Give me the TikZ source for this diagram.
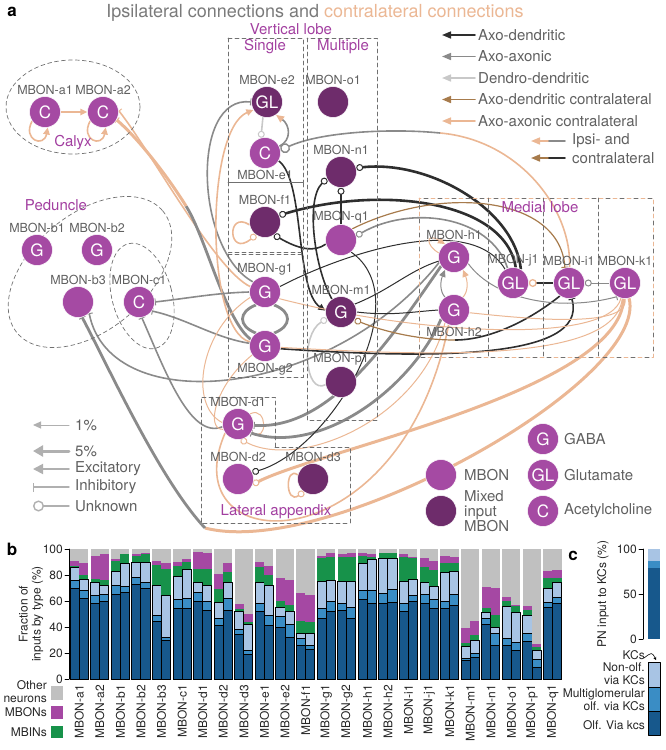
\documentclass[tikz,border=0pt]{standalone}
\usepackage{fontspec}
\setmainfont{TeX Gyre Heros}
\usetikzlibrary{arrows.meta}
\definecolor{cmbon}{HTML}{A54AA3}
\definecolor{cmix}{HTML}{6E2C6B}
\definecolor{cdd}{HTML}{2E2E2E}
\definecolor{caa}{HTML}{8A8A8A}
\definecolor{cden}{HTML}{C8C8C8}
\definecolor{cbr}{HTML}{A77B4C}
\definecolor{ctan}{HTML}{EBB794}
\definecolor{ctxt}{HTML}{606060}
\definecolor{cttl}{HTML}{7A7A7A}
\definecolor{creg}{HTML}{A23FA0}
\definecolor{cbox}{HTML}{707070}
\definecolor{cleg}{HTML}{B0B0B0}
\definecolor{bdark}{HTML}{17588C}
\definecolor{bmid}{HTML}{3A8DC5}
\definecolor{blight}{HTML}{A8C4E4}
\definecolor{bgreen}{HTML}{17924A}
\definecolor{bpurp}{HTML}{A548A3}
\definecolor{bgrey}{HTML}{C0C0C0}
\pgfdeclarelayer{background}
\pgfsetlayers{background,main}
\tikzset{
  mbon/.style={circle,minimum size=31pt,inner sep=0pt,fill=cmbon,draw=white,line width=0.5pt,
    text=white,font=\fontsize{17}{17}\selectfont},
  mixed/.style={mbon,fill=cmix},
  lbl/.style={text=ctxt,font=\fontsize{12.5}{13}\selectfont,inner sep=1pt},
  region/.style={text=creg,font=\fontsize{15}{15}\selectfont,inner sep=1pt},
  leg/.style={text=ctxt,font=\fontsize{15}{15}\selectfont,inner sep=1pt},
  cht/.style={text=black!85,font=\fontsize{12}{13}\selectfont,inner sep=1pt},
  box/.style={draw=cbox,line width=0.7pt,dash pattern=on 4pt off 3pt},
  dk1/.style={draw=cdd,line width=1pt},
  dk2/.style={draw=cdd,line width=1.6pt},
  dk3/.style={draw=cdd,line width=2.6pt},
  gr1/.style={draw=caa,line width=1pt},
  gr2/.style={draw=caa,line width=1.6pt},
  gr3/.style={draw=caa,line width=2.8pt},
  tn1/.style={draw=ctan,line width=1pt},
  tn2/.style={draw=ctan,line width=1.6pt},
  tn3/.style={draw=ctan,line width=3pt},
  den2/.style={draw=cden,line width=1.6pt},
  br1/.style={draw=cbr,line width=1.2pt},
  exc/.style={-{Triangle[length=7pt,width=6.5pt]}},
  inh/.style={-{Bar[width=7pt,line width=1pt]}},
  unk/.style={-{Circle[open,length=7pt,fill=white,line width=1pt]}},
  unkbig/.style={-{Circle[open,length=10pt,fill=white,line width=1.4pt]}},
}
\begin{document}
\begin{tikzpicture}[x=1pt,y=-1pt,line cap=round,line join=round]
\useasboundingbox (0,0) rectangle (665,750);

% title and panel letters
\node[font=\fontsize{18}{18}\selectfont,inner sep=0pt] (ttl) at (315,13)
  {\textcolor{cttl}{Ipsilateral connections and} \textcolor{ctan}{contralateral connections}};
\node[font=\bfseries\fontsize{17}{17}\selectfont,inner sep=0pt] (pa) at (12,12) {a};
\node[font=\bfseries\fontsize{17}{17}\selectfont,inner sep=0pt] (pb) at (12,549) {b};
\node[font=\bfseries\fontsize{17}{17}\selectfont,inner sep=0pt] (pc) at (573,556) {c};

% regions
\draw[box] (73,107) ellipse [x radius=67,y radius=47];
\draw[box,rotate around={40:(90,272)}] (90,272) ellipse [x radius=95,y radius=58];
\draw[box,rotate around={15:(142,296)}] (142,296) ellipse [x radius=30,y radius=54];
\draw[box] (228,38) rectangle (303,182);
\draw[box] (228,182) rectangle (303,252);
\draw[box] (228,254) rectangle (303,377);
\draw[box] (307,38) rectangle (377,420);
\draw[box,draw=ctan] (419,198) rectangle (653,357);
\draw[box,dash pattern=on 4pt off 10pt,dash phase=7pt] (419,198) rectangle (653,357);
\foreach \xd in {488,543,598}
  \draw[box] (\xd,198) -- (\xd,357);
\draw[box] (275,447) -- (350,447) -- (350,523) -- (201,523) -- (201,397) -- (275,397) -- cycle;

\node[region] (calyx) at (73,143) {Calyx};
\node[region] (ped) at (56,205) {Peduncle};
\node[region] (vert) at (291,29) {Vertical lobe};
\node[region] (single) at (265,47) {Single};
\node[region] (multi) at (343,47) {Multiple};
\node[region] (medial) at (540,207) {Medial lobe};
\node[region] (latap) at (276,512) {Lateral appendix};

% MBONs
\node[mbon,label={[lbl]above:MBON-a1}] (a1) at (45,112) {C};
\node[mbon,label={[lbl]above:MBON-a2}] (a2) at (103,112) {C};
\node[mbon,label={[lbl]above:MBON-b1}] (b1) at (37,250) {G};
\node[mbon,label={[lbl]above:MBON-b2}] (b2) at (97,250) {G};
\node[mbon,label={[lbl]above:MBON-b3}] (b3) at (78,302) {};
\node[mbon,label={[lbl]above:MBON-c1}] (c1) at (139,302) {C};
\node[mixed,label={[lbl]above:MBON-e2}] (e2) at (267,102) {GL};
\node[mixed,label={[lbl]above:MBON-o1}] (o1) at (333,102) {};
\node[mbon,label={[lbl]below:MBON-e1}] (e1) at (265,153) {C};
\node[mixed,label={[lbl]above:MBON-f1}] (f1) at (265,222) {};
\node[mixed,label={[lbl]above:MBON-n1}] (n1) at (341,172) {};
\node[mbon,label={[lbl]above:MBON-q1}] (q1) at (341,240) {};
\node[mbon,label={[lbl]above:MBON-g1}] (g1) at (265,292) {G};
\node[mbon,label={[lbl]below:MBON-g2}] (g2) at (265,346) {G};
\node[mixed,label={[lbl]above:MBON-m1}] (m1) at (341,312) {G};
\node[mixed,label={[lbl]above:MBON-p1}] (p1) at (341,382) {};
\node[mbon,label={[lbl]above:MBON-h1}] (h1) at (454,257) {G};
\node[mbon,label={[lbl]below:MBON-h2}] (h2) at (454,310) {G};
\node[mbon,label={[lbl]above:MBON-j1}] (j1) at (513,283) {GL};
\node[mbon,label={[lbl]above:MBON-i1}] (i1) at (569,283) {GL};
\node[mbon,label={[lbl]above:MBON-k1}] (k1) at (625,283) {GL};
\node[mbon,label={[lbl]above:MBON-d1}] (d1) at (238,424) {G};
\node[mbon,label={[lbl]above:MBON-d2}] (d2) at (238,479) {};
\node[mixed,label={[lbl]above:MBON-d3}] (d3) at (313,479) {};

\begin{pgfonlayer}{background}
% calyx
\draw[tn2,exc] (a1) -- (a2);
\draw[tn2,exc] (a1.215) .. controls (22,140) and (44,148) .. (a1.280);
\draw[tn2,exc] (a2.215) .. controls (80,140) and (102,148) .. (a2.280);
\coordinate (ga2) at (186,206);
\draw[tn2,inh] (g1.160) .. controls (215,270) and (150,150) .. (a2.5);
\draw[gr3] (g2.155) .. controls (225,320) and (205,235) .. (ga2);
\draw[tn3,inh] (ga2) .. controls (170,180) and (140,140) .. (a2.-30);
% vertical lobe
\draw[gr2,inh] (g1.140) .. controls (195,250) and (190,95) .. (e2.180);
\draw[tn2,exc] (g2.165) .. controls (205,330) and (205,130) .. (e2.210);
\draw[gr2,-{Triangle[length=8pt,width=7pt,color=ctan]}] (e1.25) .. controls (292,140) and (290,125) .. (e2.-55);
\draw[den2,unk] (e2.255) -- (e1.105);
\coordinate (ie1) at (440,133);
\draw[tn2] (i1.88) .. controls (572,210) and (520,140) .. (ie1);
\draw[gr2,unkbig] (ie1) .. controls (390,128) and (320,132) .. (e1.10);
\draw[dk2,exc] (e1.-30) .. controls (305,180) and (295,290) .. (m1.175);
\draw[tn2,unk] (f1.190) .. controls (226,210) and (228,258) .. (f1.235);
\draw[dk3,unk] (j1.80) .. controls (505,200) and (380,185) .. (f1.25);
\draw[dk3,unk] (j1.60) .. controls (515,210) and (430,160) .. (n1.15);
\draw[dk2,unk] (q1.195) .. controls (315,252) and (300,250) .. (f1.-55);
\draw[dk2,unk] (q1) -- (n1);
\draw[gr2,unk] (j1.110) .. controls (490,215) and (410,205) .. (q1.15);
\draw[dk2,unk] (m1.125) .. controls (315,270) and (305,200) .. (n1.205);
\draw[br1,inh] (q1.45) .. controls (440,185) and (560,195) .. (i1.105);
\draw[den2,unk] (p1.190) .. controls (305,395) and (300,335) .. (m1.205);
% peduncle
\draw[gr3] (g1.235) .. controls (238,312) and (238,326) .. (g2.125);
\draw[gr3] (g1.-55) .. controls (292,312) and (292,326) .. (g2.55);
\draw[gr2,inh] (g1.180) .. controls (215,293) and (190,298) .. (c1.0);
\draw[gr2,inh] (g2.170) .. controls (215,338) and (185,318) .. (c1.-35);
\draw[gr2,inh] (h1.200) .. controls (330,400) and (110,420) .. (b3.-45);
\coordinate (kb3) at (205,528);
\draw[tn3] (k1.-75) .. controls (650,380) and (330,560) .. (kb3);
\draw[gr3,inh] (kb3) .. controls (160,480) and (110,370) .. (b3.-75);
\draw[gr2,inh] (d1.190) .. controls (190,440) and (165,370) .. (c1.-80);
% lateral appendix
\draw[tn1] (g1.200) .. controls (200,330) and (188,405) .. (d1.175);
\draw[tn1] (g2.215) .. controls (215,385) and (205,430) .. (d1.200);
\draw[tn1] (d1.40) .. controls (268,405) and (268,445) .. (d1.-30);
\draw[tn1,unk] (h2.235) .. controls (420,420) and (300,470) .. (d1.-80);
\draw[tn2] (h2.250) .. controls (400,570) and (170,560) .. (d1.215);
\draw[gr3,inh] (h1.215) .. controls (390,340) and (330,430) .. (d1.-5);
\draw[gr3,inh] (h2.215) .. controls (410,390) and (320,455) .. (d1.-35);
\draw[dk1,unk] (q1.-50) .. controls (420,300) and (330,450) .. (d2.25);
\draw[tn3,unk] (k1.-95) .. controls (620,390) and (320,450) .. (d2.-20);
\draw[tn2,unk] (d3.165) .. controls (285,465) and (285,505) .. (d3.235);
% medial lobe
\draw[dk1] (m1.30) .. controls (390,290) and (410,270) .. (h1.195);
\draw[dk1] (m1.0) .. controls (390,316) and (410,312) .. (h2.180);
\coordinate (im1) at (455,340);
\draw[dk2] (i1.235) .. controls (530,320) and (490,340) .. (im1);
\draw[br1,unk] (im1) .. controls (420,340) and (385,332) .. (m1.-30);
\draw[dk2,inh] (g2.-10) .. controls (420,358) and (590,362) .. (i1.-80);
\draw[dk1] (g1.20) .. controls (340,255) and (470,210) .. (j1.120);
\draw[gr1,exc] (h2.125) .. controls (440,292) and (440,282) .. (h1.235);
\draw[tn1,exc] (h2.55) .. controls (468,292) and (468,282) .. (h1.-55);
\draw[tn1,exc] (h1.165) .. controls (425,245) and (426,232) .. (h1.125);
\draw[gr1,inh] (h1.-25) .. controls (495,300) and (560,312) .. (k1.-120);
\draw[dk2,-{Circle[open,length=8pt,color=ctan,fill=white,line width=1.3pt]}] (i1) -- (j1);
\draw[gr1,unk] (k1) -- (i1);
\draw[tn1] (k1.-105) .. controls (610,345) and (420,335) .. (g1.-25);
\draw[tn1] (k1.-100) .. controls (615,365) and (420,355) .. (g2.-5);
\draw[tn1] (k1.-90) .. controls (630,330) and (520,318) .. (h2.-10);
\end{pgfonlayer}

% legend of connection types
\foreach \t/\c [count=\i from 0] in {Axo-dendritic/cdd,Axo-axonic/caa,Dendro-dendritic/cden,
    Axo-dendritic contralateral/cbr,Axo-axonic contralateral/ctan}{
  \node[leg,anchor=west] (lt\i) at (477,{35+21.5*\i}) {\t};
  \draw[color=\c,line width=1.6pt,-{Triangle[length=9pt,width=7pt]}] ([xshift=-2pt]lt\i.west) -- ++(-33,0);
}
\node[leg,anchor=west] (ipsi) at (571,141) {Ipsi- and};
\node[leg,anchor=west] (contra) at (571,158) {contralateral};
\draw[caa,line width=1.6pt] ([xshift=-6pt]ipsi.west) -- ++(-17,0);
\draw[ctan,line width=1.6pt,-{Triangle[length=9pt,width=7pt]}] ([xshift=-23pt]ipsi.west) -- ++(-17,0);
\draw[cdd,line width=1.6pt] ([xshift=-6pt]contra.west) -- ++(-17,0);
\draw[cbr,line width=1.6pt,-{Triangle[length=9pt,width=7pt]}] ([xshift=-23pt]contra.west) -- ++(-17,0);

% legend of weights and signs
\node[leg,anchor=west] (lg1) at (74,425) {1\%};
\node[leg,anchor=west] (lg5) at (74,451) {5\%};
\node[leg,anchor=west] (lgex) at (74,469) {Excitatory};
\node[leg,anchor=west] (lgin) at (74,487) {Inhibitory};
\node[leg,anchor=west] (lgun) at (74,506) {Unknown};
\draw[cleg,line width=1pt,-{Triangle[length=8pt,width=7pt]}] ([xshift=-5pt]lg1.west) -- ++(-36,0);
\draw[cleg,line width=3pt,-{Triangle[length=10pt,width=11pt]}] ([xshift=-5pt]lg5.west) -- ++(-36,0);
\draw[cleg,line width=1.8pt,-{Triangle[length=10pt,width=10pt]}] ([xshift=-5pt]lgex.west) -- ++(-36,0);
\draw[cleg,line width=1.4pt,-{Bar[width=9pt]}] ([xshift=-5pt]lgin.west) -- ++(-36,0);
\draw[cleg,line width=1.4pt,-{Circle[open,length=11pt,fill=white]}] ([xshift=-5pt]lgun.west) -- ++(-36,0);

% legend of neuron types
\node[mbon] (lgm) at (441,475) {};
\node[leg,anchor=west] (lgmt) at (463,475) {MBON};
\node[mixed] (lgx) at (441,511) {};
\node[leg,anchor=west,align=left] (lgxt) at (463,511) {Mixed\\input\\MBON};
\node[mbon] (lgg) at (543,439) {G};
\node[leg,anchor=west] (lggt) at (563,439) {GABA};
\node[mbon] (lggl) at (543,475) {GL};
\node[leg,anchor=west] (lgglt) at (563,475) {Glutamate};
\node[mbon] (lgc) at (543,511) {C};
\node[leg,anchor=west] (lgct) at (563,511) {Acetylcholine};

% b: input fractions
\foreach \olf/\mul/\kcs/\mbi/\mbo [count=\j from 0] in {
  70/76/86/87/91,62/68/77/80/89, 58/64/74/77/95,60/65/72/76/96,
  65/72/83/91/92,67/71/89/96/96, 73/78/90/95/96,70/74/90/96/97,
  44/49/72/88/91,30/32/64/85/89, 54/61/79/87/90,54/62/84/90/92,
  60/67/74/85/98,53/60/72/85/97, 41/47/59/69/81,53/62/74/82/89,
  34/38/52/54/58,19/22/42/44/50, 52/58/74/86/90,41/49/72/80/87,
  40/48/55/60/78,32/42/52/57/76, 26/31/35/45/66,23/26/35/44/65,
  47/54/75/93/95,52/60/76/94/97, 53/58/75/94/96,47/55/75/94/97,
  61/68/89/95/97,58/68/92/94/96, 58/66/93/97/97,59/69/93/97/97,
  52/58/75/94/96,60/64/77/93/94, 58/65/74/86/93,54/61/71/84/91,
  54/60/82/89/95,57/65/83/89/94, 14/16/25/28/39,17/20/30/34/45,
  42/47/51/55/71,26/35/40/49/70, 26/31/56/60/63,22/28/51/56/57,
  29/35/49/53/56,9/15/22/25/27, 55/59/70/78/83,58/63/74/78/84}{
  \pgfmathsetmacro\xa{69+20.58*floor(\j/2)+1+9.1*mod(\j,2)}
  \pgfmathsetmacro\xb{\xa+9.1}
  \fill[bgrey] (\xa,679) rectangle (\xb,549);
  \fill[bpurp] (\xa,679) rectangle (\xb,{679-1.3*\mbo});
  \fill[bgreen] (\xa,679) rectangle (\xb,{679-1.3*\mbi});
  \filldraw[fill=blight,draw=black,line width=0.7pt] (\xa,679) rectangle (\xb,{679-1.3*\kcs});
  \filldraw[fill=bmid,draw=black,line width=0.7pt] (\xa,679) rectangle (\xb,{679-1.3*\mul});
  \filldraw[fill=bdark,draw=black,line width=0.7pt] (\xa,679) rectangle (\xb,{679-1.3*\olf});
}
\foreach \nm [count=\i from 0] in {a1,a2,b1,b2,b3,c1,d1,d2,d3,e1,e2,f1,g1,g2,h1,h2,i1,j1,k1,m1,n1,o1,p1,q1}
  \node[cht,rotate=90,anchor=east] (bl\nm) at ({69+20.58*(\i+0.5)},684) {MBON-\nm};
\draw[line width=0.6pt] (69,549) -- (69,679);
\foreach \tk in {0,20,...,100}{
  \draw[line width=0.6pt] (65,{679-1.3*\tk}) -- (69,{679-1.3*\tk});
  \node[cht,anchor=east] (tk\tk) at (64,{679-1.3*\tk}) {\tk};
}
\node[cht,rotate=90,align=center] (ylab) at (31,614) {Fraction of\\inputs by type (\%)};
\node[cht,anchor=east,align=right] (lgo) at (48,692) {Other\\neurons};
\node[cht,anchor=east] (lgp) at (48,712) {MBONs};
\node[cht,anchor=east] (lgb) at (48,732) {MBINs};
\fill[bgrey] (51,686) rectangle (63,700);
\fill[bpurp] (51,706) rectangle (63,719);
\fill[bgreen] (51,726) rectangle (63,738);

% c: PN input to KCs
\fill[blight] (648,639) rectangle (660,549);
\fill[bmid] (648,639) rectangle (660,{639-0.9*87});
\fill[bdark] (648,639) rectangle (660,{639-0.9*79});
\draw[line width=0.6pt] (643,549) -- (643,639);
\foreach \tk in {0,50,100}{
  \draw[line width=0.6pt] (639,{639-0.9*\tk}) -- (643,{639-0.9*\tk});
  \node[cht,anchor=east] (ck\tk) at (638,{639-0.9*\tk}) {\tk};
}
\node[cht,rotate=90] (clab) at (603,594) {PN input to KCs (\%)};
\filldraw[fill=blight,draw=black,line width=0.7pt] (648,662) rectangle (660,687);
\filldraw[fill=bmid,draw=black,line width=0.7pt] (648,687) rectangle (660,711);
\filldraw[fill=bdark,draw=black,line width=0.7pt] (648,711) rectangle (660,735);
\node[cht,anchor=east] (ckc) at (646,655) {KCs};
\node[cht,anchor=east,align=right] (cno) at (646,674) {Non-olf.\\via KCs};
\node[cht,anchor=east,align=right] (cmu) at (646,700) {Multiglomerular\\olf. via KCs};
\node[cht,anchor=east] (col) at (646,725) {Olf. Via kcs};
\draw[line width=0.6pt,-{Stealth[length=3pt,width=3pt]}] ([xshift=-2pt,yshift=-3pt]ckc.east) .. controls (652,652) .. (656,660);
\end{tikzpicture}
\end{document}
